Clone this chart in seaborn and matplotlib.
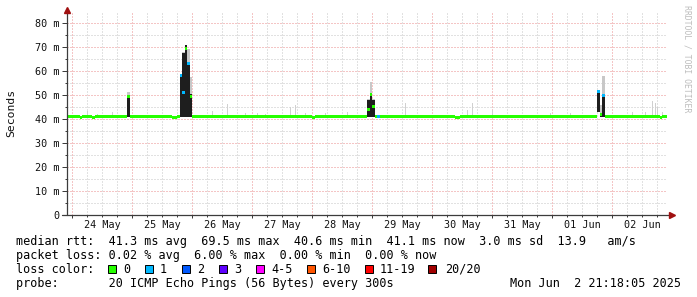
import numpy as np
import matplotlib
matplotlib.use("Agg")
import matplotlib.pyplot as plt
import seaborn as sns

# ---------------- data (hours since 24 May 00:00, one-hour bins) ----------------
baseline_ms = 41.1
first_hour, last_hour = -3, 238

# median bins that differ from the baseline (value in ms, loss class index)
median_hours = [3, 8, 22, 40, 41, 43, 44, 45, 46, 47, 96, 118, 119, 120, 122, 153, 154, 210, 211, 212, 235]
median_ms = [40.5, 40.5, 49.3, 40.5, 40.5, 58.0, 51.0, 69.5, 63.3, 49.3, 40.5, 44.0, 50.2, 45.4, 41.1, 40.5, 40.5, 51.4, 42.0, 50.0, 40.5]
median_loss = [0, 0, 0, 0, 0, 1, 1, 0, 1, 0, 0, 0, 0, 0, 1, 0, 0, 1, 0, 1, 0]

# dense smoke (spread of the 20 pings) around the spikes
smoke_hours = [22, 43, 44, 45, 46, 47, 118, 119, 120, 210, 211, 212]
smoke_lo = [41.0, 41.0, 41.0, 41.0, 41.0, 41.0, 41.0, 41.0, 41.0, 43.0, 41.0, 41.0]
smoke_hi = [49.6, 58.0, 67.5, 70.8, 63.5, 50.5, 47.9, 50.7, 47.9, 51.0, 41.5, 50.0]
smoke_max = [51.4, 58.5, 68.0, 71.0, 69.0, 57.5, 48.5, 55.5, 48.5, 52.0, 45.8, 57.9]

# light smoke outliers on the baseline
outlier_hours = [6, 10, 16, 56, 62, 69, 74, 77, 87, 89, 93, 101, 110, 133, 158, 160, 168, 191, 199, 224, 229, 232, 233, 234, 236]
outlier_ms = [43.5, 42.0, 42.9, 43.5, 46.2, 42.6, 42.6, 42.0, 45.0, 45.7, 42.3, 42.3, 43.0, 46.5, 43.7, 46.8, 43.9, 42.3, 42.3, 43.0, 43.0, 47.5, 46.5, 45.0, 42.8]

day_labels = ["24 May", "25 May", "26 May", "27 May", "28 May", "29 May", "30 May", "31 May", "01 Jun", "02 Jun"]
y_ticks = [0, 10, 20, 30, 40, 50, 60, 70, 80]
y_tick_labels = ["0", "10 m", "20 m", "30 m", "40 m", "50 m", "60 m", "70 m", "80 m"]

loss_labels = ["0", "1", "2", "3", "4-5", "6-10", "11-19", "20/20"]
loss_colors = ["#26ff00", "#00b8ff", "#0059ff", "#5e00ff", "#ff00ff", "#ff5500", "#ff0000", "#a10000"]

line_rtt = "median rtt:  41.3 ms avg  69.5 ms max  40.6 ms min  41.1 ms now  3.0 ms sd  13.9   am/s"
line_loss = "packet loss: 0.02 % avg  6.00 % max  0.00 % min  0.00 % now"
line_probe = "probe:       20 ICMP Echo Pings (56 Bytes) every 300s"
stamp = "Mon Jun  2 21:18:05 2025"
watermark = "RRDTOOL / TOBI OETIKER"

# ---------------- style ----------------
sns.set_theme(style="white")
MONO = "DejaVu Sans Mono"
plt.rcParams["font.family"] = [MONO, "DejaVu Sans"]

W, H = 697, 297
fig = plt.figure(figsize=(W / 100, H / 100), dpi=100)
fig.patch.set_facecolor("white")

PX = 24 / 10.0          # pixels per ms
L, R, B, T = 67, 667, 215, 13
ax = fig.add_axes([L / W, 1 - B / H, (R - L) / W, (B - T) / H])
ax.set_facecolor("white")
xmin, xmax = -2, 238
ymax = (B - T) / PX
ax.set_xlim(xmin, xmax)
ax.set_ylim(0, ymax)
for s in ax.spines.values():
    s.set_visible(False)

# grid
major_x = np.arange(0, 240, 24)
minor_x = [h for h in range(0, 240, 6) if h % 24 != 0]
grey = "#c4c4c4"
red = "#eb8c8c"
dots = (0, (1, 2))
for h in minor_x:
    ax.axvline(h, color=grey, lw=0.72, ls=dots, zorder=0)
for v in [5, 15, 25, 35, 45, 55, 65, 75]:
    ax.axhline(v, color=grey, lw=0.72, ls=dots, zorder=0)
for h in major_x:
    ax.axvline(h, color=red, lw=0.72, ls=dots, zorder=0.5)
for v in y_ticks[1:]:
    ax.axhline(v, color=red, lw=0.72, ls=dots, zorder=0.5)

# light smoke outliers
ax.bar(outlier_hours, np.array(outlier_ms) - baseline_ms, bottom=baseline_ms, width=0.5,
       align="edge", color="#d0d0d0", linewidth=0, zorder=1)
# smoke around spikes
ax.bar(smoke_hours, np.array(smoke_max) - np.array(smoke_lo), bottom=smoke_lo, width=1.05,
       align="edge", color="#c8c8c8", linewidth=0, zorder=1.2)
ax.bar(smoke_hours, np.array(smoke_hi) - np.array(smoke_lo), bottom=smoke_lo, width=1.05,
       align="edge", color="#1e1e1e", linewidth=0, zorder=1.4)

# median band coloured by loss
hours = np.arange(first_hour, last_hour)
med = np.full(hours.shape, baseline_ms)
loss = np.zeros(hours.shape, dtype=int)
for h, v, l in zip(median_hours, median_ms, median_loss):
    med[h - first_hour] = v
    loss[h - first_hour] = l
half = 1.5 / PX
for code, col in enumerate(loss_colors):
    idx = np.where(loss == code)[0]
    if idx.size == 0:
        continue
    runs = np.split(idx, np.where(np.diff(idx) != 1)[0] + 1)
    for run in runs:
        xs = np.append(hours[run], hours[run[-1]] + 1)
        ys = np.append(med[run], med[run[-1]])
        ax.fill_between(xs, ys - half, ys + half, step="post", color=col, linewidth=0, zorder=2)

# axes lines and arrows
axis_col = "#3c3c3c"
arrow_col = "#a01010"
ytr = ax.get_yaxis_transform()
xtr = ax.get_xaxis_transform()
x0 = (62 - L) / (R - L)
x1 = (672 - L) / (R - L)
ax.plot([0, 0], [0, (B - 10) / PX], transform=ytr, color=axis_col, lw=0.9, clip_on=False, zorder=5)
ax.plot([x0, x1], [0, 0], transform=ax.transAxes, color=axis_col, lw=0.9, clip_on=False, zorder=5)
ax.plot([0], [(B - 10) / PX], transform=ytr, marker="^", ms=4.5, color=arrow_col, clip_on=False, zorder=6)
ax.plot([x1], [0], transform=ax.transAxes, marker=">", ms=4.5, color=arrow_col, clip_on=False, zorder=6)

# ticks
ax.set_yticks(y_ticks, y_tick_labels)
ax.set_yticks([5, 15, 25, 35, 45, 55, 65, 75], minor=True)
ax.set_xticks(major_x, [""] * len(major_x))
ax.set_xticks(minor_x, minor=True)
ax.tick_params(axis="y", which="major", length=3.6, width=0.72, color=axis_col, pad=1.5,
               labelsize=7.3, labelcolor="#111111", left=True)
ax.tick_params(axis="y", which="minor", length=1.5, width=0.72, color=axis_col, left=True)
ax.tick_params(axis="x", which="major", length=2.2, width=0.72, color=axis_col, bottom=True)
ax.tick_params(axis="x", which="minor", length=1.5, width=0.72, color=axis_col, bottom=True)
for lab in ax.get_yticklabels():
    lab.set_family(MONO)
for i, lab in enumerate(day_labels):
    ax.text(12 + 24 * i, -(225 - B) / (B - T), lab, transform=xtr, ha="center", va="center",
            fontsize=7.3, family=MONO, color="#111111")

def fx(x):
    return x / W

def fy(y):
    return 1 - y / H

fig.text(fx(11), fy(113), "Seconds", rotation=90, ha="center", va="center", fontsize=8.2, family=MONO,
         color="#111111")
fig.text(fx(687), fy(5), watermark, rotation=270, ha="center", va="top", fontsize=5.9, family=MONO,
         color="#bdbdbd")

fs = 8.5
fig.text(fx(16), fy(245), line_rtt, ha="left", va="baseline", fontsize=fs, family=MONO, color="black")
fig.text(fx(16), fy(259), line_loss, ha="left", va="baseline", fontsize=fs, family=MONO, color="black")
fig.text(fx(16), fy(273), "loss color:", ha="left", va="baseline", fontsize=fs, family=MONO, color="black")
box_x = [108, 145, 182, 219, 256, 307, 365, 428]
lab_x = [123, 160, 197, 234, 271, 322, 380, 445]
for bx, lx, lab, col in zip(box_x, lab_x, loss_labels, loss_colors):
    fig.patches.append(plt.Rectangle((fx(bx), fy(273)), 8 / W, 8 / H, transform=fig.transFigure,
                                     facecolor=col, edgecolor="black", linewidth=0.7, figure=fig))
    fig.text(fx(lx), fy(273), lab, ha="left", va="baseline", fontsize=fs, family=MONO, color="black")
fig.text(fx(16), fy(287), line_probe, ha="left", va="baseline", fontsize=fs, family=MONO, color="black")
fig.text(fx(681), fy(287), stamp, ha="right", va="baseline", fontsize=fs, family=MONO, color="black")

fig.savefig("out.png", dpi=100, facecolor="white")
